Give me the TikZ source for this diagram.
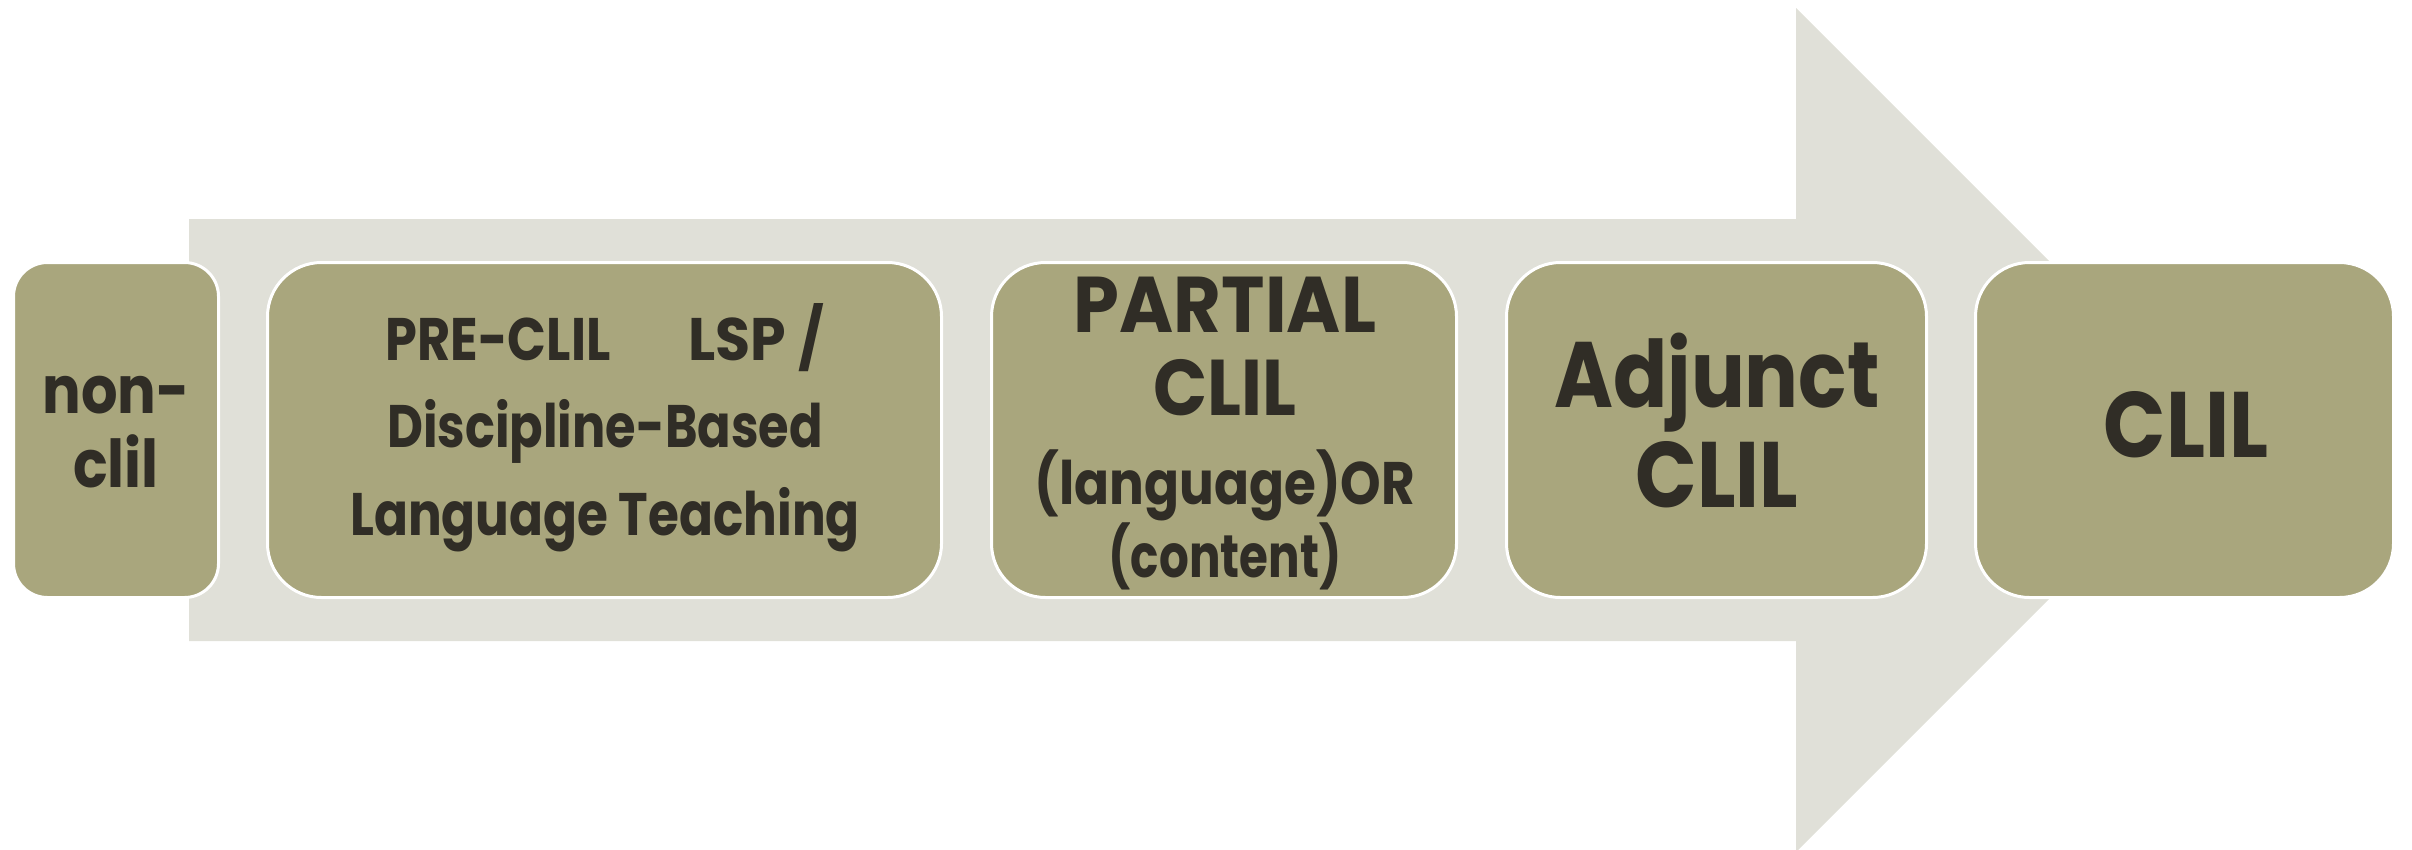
\documentclass[tikz,border=0pt]{standalone}
\usepackage{graphicx}
\usepackage{fontspec}
\setmainfont{Poppins}
\definecolor{arrowfill}{HTML}{E0E0D8}
\definecolor{boxfill}{HTML}{A9A67D}
\definecolor{inktext}{HTML}{302D26}
\newcommand\hsq[2]{\scalebox{#1}[1]{#2}}
\begin{document}
\begin{tikzpicture}[x=1pt,y=-1pt,
  stage/.style={draw=white, line width=3pt, fill=boxfill, rounded corners=#1, inner sep=0pt},
  label/.style={text=inktext, align=center, anchor=base, inner sep=0pt}]
\useasboundingbox (0,0) rectangle (2412,849);
\begin{scope}
\clip (0,0) rectangle (2412,849);
\fill[arrowfill] (189,219) -- (1796,219) -- (1796,8) -- (2218,430) -- (1796,852) -- (1796,641) -- (189,641) -- cycle;
\end{scope}
\path[stage=34] (13.5,262.5) rectangle (218.5,597.5);
\path[stage=54] (267.5,262.5) rectangle (941.5,597.5);
\path[stage=54] (991.5,262.5) rectangle (1456.5,597.5);
\path[stage=54] (1506.5,262.5) rectangle (1926.5,597.5);
\path[stage=54] (1975.5,262.5) rectangle (2393.5,597.5);
\node[label, font=\bfseries\fontsize{66}{74}\selectfont] (t1) at (116,487) {\hsq{0.87}{non-}\\\hsq{0.87}{clil}};
\node[label, font=\bfseries\fontsize{60}{87.5}\selectfont] (t2) at (605,535) {\hsq{0.85}{PRE-CLIL}\hspace{78pt}\hsq{0.95}{LSP /}\\\hsq{0.824}{Discipline-Based}\\\hsq{0.834}{Language Teaching}};
\node[label, font=\bfseries\fontsize{79}{83}\selectfont] (t3) at (1225,415) {\hsq{0.93}{PARTIAL}\\\hsq{0.9}{CLIL}};
\node[label, font=\bfseries\fontsize{60}{60}\selectfont] (t3b) at (1225,577) {\hsq{0.86}{(language)OR}\\\hsq{0.78}{(content)}};
\node[label, font=\bfseries\fontsize{93}{100}\selectfont] (t4) at (1717,507) {\hsq{0.86}{Adjunct}\\\hsq{0.87}{CLIL}};
\node[label, font=\bfseries\fontsize{93}{100}\selectfont] (t5) at (2186,457) {\hsq{0.88}{CLIL}};
\end{tikzpicture}
\end{document}
